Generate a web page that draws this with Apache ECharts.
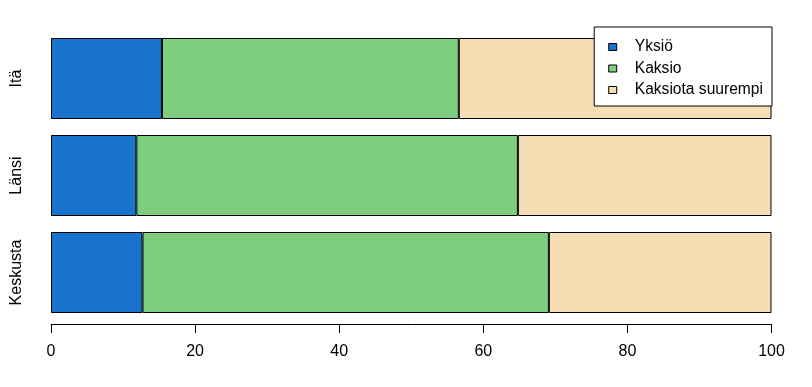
<!DOCTYPE html>
<html>
<head>
<meta charset="utf-8">
<script src="https://cdn.jsdelivr.net/npm/echarts@6/dist/echarts.min.js"></script>
<style>
html,body{margin:0;padding:0;background:#fff;}
#chart{width:812px;height:387px;}
</style>
</head>
<body>
<div id="chart"></div>
<script>
// Data
var categories = ['Keskusta', 'Länsi', 'Itä'];
var seriesNames = ['Yksiö', 'Kaksio', 'Kaksiota suurempi'];
var yksio = [12.7, 11.85, 15.4];
var kaksio = [56.4, 52.95, 41.2];
var suurempi = [30.9, 35.2, 43.4];
var xTicks = [0, 20, 40, 60, 80, 100];

var colors = ['#1874CD', '#7FCE80', '#F5DEB3'];
var values = [yksio, kaksio, suurempi];
var font = 'Liberation Sans, Arial, sans-serif';

var chart = echarts.init(document.getElementById('chart'), null, {renderer: 'canvas'});
chart.setOption({
  animation: false,
  backgroundColor: '#fff',
  grid: {left: 51, right: 40.5, top: 30, bottom: 66, containLabel: false},
  legend: {
    orient: 'vertical',
    right: 40,
    top: 27,
    backgroundColor: '#fff',
    borderColor: '#000',
    borderWidth: 1,
    borderRadius: 0,
    padding: [12, 9, 8, 14],
    itemGap: 5.5,
    itemWidth: 8,
    itemHeight: 7,
    icon: 'rect',
    itemStyle: {borderColor: '#000', borderWidth: 1},
    textStyle: {fontFamily: font, fontSize: 15.6, color: '#000', padding: [0, 0, 0, 13]},
    data: seriesNames
  },
  xAxis: {
    type: 'value',
    min: 0,
    max: 100,
    interval: 20,
    offset: 3,
    splitLine: {show: false},
    axisLine: {show: true, lineStyle: {color: '#000', width: 1}},
    axisTick: {show: true, length: 9, lineStyle: {color: '#000'}},
    axisLabel: {
      fontFamily: font, fontSize: 16, color: '#000', margin: 20,
      customValues: xTicks
    }
  },
  yAxis: {
    type: 'category',
    data: categories,
    axisLine: {show: false},
    axisTick: {show: false},
    axisLabel: {
      fontFamily: font, fontSize: 16, color: '#000',
      rotate: 90, align: 'center', verticalAlign: 'middle', margin: 34
    }
  },
  series: seriesNames.map(function (name, i) {
    return {
      name: name,
      type: 'bar',
      stack: 'total',
      barWidth: 81,
      data: values[i],
      itemStyle: {color: colors[i], borderColor: '#000', borderWidth: 1},
      emphasis: {disabled: true}
    };
  })
});
</script>
</body>
</html>
